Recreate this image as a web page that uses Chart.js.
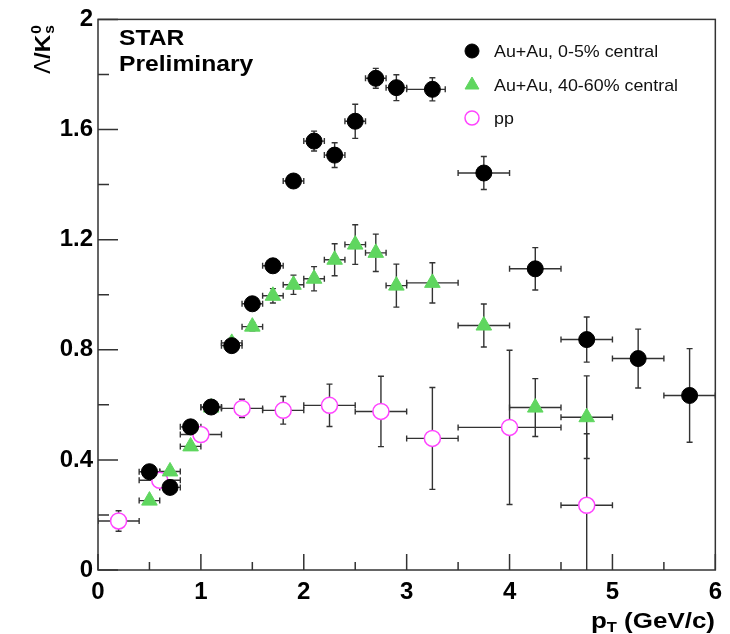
<!DOCTYPE html>
<html>
<head>
<meta charset="utf-8">
<script src="https://cdn.jsdelivr.net/npm/chart.js@4.4.0/dist/chart.umd.min.js"></script>
<style>
html, body { margin: 0; padding: 0; background: #fff; }
#wrap { width: 730px; height: 634px; position: relative; }
</style>
</head>
<body>
<div id="wrap"><canvas id="chart_lambdaK0sRatio"></canvas></div>
<script>
// Au+Au, 0-5% central
const ptCentral    = [0.5, 0.7, 0.9, 1.1, 1.3, 1.5, 1.7, 1.9, 2.1, 2.3, 2.5, 2.7, 2.9, 3.25, 3.75, 4.25, 4.75, 5.25, 5.75];
const ratioCentral = [0.357, 0.300, 0.520, 0.592, 0.815, 0.967, 1.105, 1.413, 1.558, 1.507, 1.630, 1.786, 1.752, 1.746, 1.442, 1.094, 0.837, 0.768, 0.634];
const errCentral   = [0.012, 0.012, 0.013, 0.013, 0.014, 0.015, 0.015, 0.015, 0.036, 0.045, 0.062, 0.036, 0.047, 0.042, 0.060, 0.077, 0.082, 0.107, 0.170];
const binLoCentral = [0.4, 0.6, 0.8, 1.0, 1.2, 1.4, 1.6, 1.8, 2.0, 2.2, 2.4, 2.6, 2.8, 3.0, 3.5, 4.0, 4.5, 5.0, 5.5];
const binHiCentral = [0.6, 0.8, 1.0, 1.2, 1.4, 1.6, 1.8, 2.0, 2.2, 2.4, 2.6, 2.8, 3.0, 3.375, 4.0, 4.5, 5.0, 5.5, 6.0];

// Au+Au, 40-60% central
const ptPeripheral    = [0.5, 0.7, 0.9, 1.1, 1.3, 1.5, 1.7, 1.9, 2.1, 2.3, 2.5, 2.7, 2.9, 3.25, 3.75, 4.25, 4.75];
const ratioPeripheral = [0.252, 0.358, 0.449, 0.590, 0.825, 0.884, 0.996, 1.036, 1.058, 1.127, 1.182, 1.152, 1.033, 1.043, 0.888, 0.590, 0.555];
const errPeripheral   = [0.010, 0.010, 0.012, 0.012, 0.015, 0.015, 0.026, 0.035, 0.044, 0.058, 0.072, 0.068, 0.078, 0.073, 0.078, 0.105, 0.150];
const binLoPeripheral = [0.4, 0.6, 0.8, 1.0, 1.2, 1.4, 1.6, 1.8, 2.0, 2.2, 2.4, 2.6, 2.8, 3.0, 3.5, 4.0, 4.5];
const binHiPeripheral = [0.6, 0.8, 1.0, 1.2, 1.4, 1.6, 1.8, 2.0, 2.2, 2.4, 2.6, 2.8, 3.0, 3.5, 4.0, 4.5, 5.0];

// pp
const ptPP    = [0.2, 0.6, 1.0, 1.4, 1.8, 2.25, 2.75, 3.25, 4.0, 4.75];
const ratioPP = [0.178, 0.326, 0.492, 0.587, 0.580, 0.598, 0.576, 0.478, 0.518, 0.235];
const errPP   = [0.037, 0.015, 0.015, 0.033, 0.050, 0.077, 0.128, 0.185, 0.280, 0.260];
const binLoPP = [0.0, 0.4, 0.8, 1.2, 1.6, 2.0, 2.5, 3.0, 3.5, 4.5];
const binHiPP = [0.4, 0.8, 1.2, 1.6, 2.0, 2.5, 3.0, 3.5, 4.5, 5.0];

const seriesLabels = ['Au+Au, 0-5% central', 'Au+Au, 40-60% central', 'pp'];
const yTicks = [0, 0.4, 0.8, 1.2, 1.6, 2];
const xTicks = [0, 1, 2, 3, 4, 5, 6];

const FRAME = '#333333';
const GREEN = '#5fd65f';
const MAGENTA = '#ff44ff';

function points(xs, ys) {
    return xs.map((x, i) => ({ x: x, y: ys[i] }));
}

// horizontally stretched text, ROOT fonts look a bit wider
function stretchText(ctx, str, x, y, font, sx) {
    ctx.save();
    ctx.font = font;
    ctx.translate(x, y);
    ctx.scale(sx, 1);
    ctx.fillText(str, 0, 0);
    const w = ctx.measureText(str).width * sx;
    ctx.restore();
    return w;
}

const errorBars = {
    id: 'errorBars',
    beforeDatasetsDraw: (chart) => {
        const ctx = chart.ctx;
        const xs = chart.scales.x, ys = chart.scales.y;
        const area = chart.chartArea;
        ctx.save();
        ctx.beginPath();
        ctx.rect(area.left, area.top, area.right - area.left, area.bottom - area.top);
        ctx.clip();
        ctx.strokeStyle = FRAME;
        ctx.lineWidth = 1.4;
        const cap = 3;
        chart.data.datasets.forEach((ds) => {
            ds.data.forEach((p, i) => {
                const px = xs.getPixelForValue(p.x);
                const py = ys.getPixelForValue(p.y);
                const x0 = xs.getPixelForValue(ds.binLo[i]);
                const x1 = xs.getPixelForValue(ds.binHi[i]);
                const y0 = ys.getPixelForValue(p.y - ds.errY[i]);
                const y1 = ys.getPixelForValue(p.y + ds.errY[i]);
                ctx.beginPath();
                ctx.moveTo(x0, py); ctx.lineTo(x1, py);
                ctx.moveTo(x0, py - cap); ctx.lineTo(x0, py + cap);
                ctx.moveTo(x1, py - cap); ctx.lineTo(x1, py + cap);
                ctx.moveTo(px, y0); ctx.lineTo(px, y1);
                ctx.moveTo(px - cap, y0); ctx.lineTo(px + cap, y0);
                ctx.moveTo(px - cap, y1); ctx.lineTo(px + cap, y1);
                ctx.stroke();
            });
        });
        ctx.restore();
    }
};

const frameAndText = {
    id: 'frameAndText',
    afterDraw: (chart) => {
        const ctx = chart.ctx;
        const xs = chart.scales.x, ys = chart.scales.y;
        const a = chart.chartArea;
        ctx.save();
        ctx.strokeStyle = FRAME;
        ctx.lineWidth = 1.5;
        ctx.strokeRect(a.left, a.top, a.right - a.left, a.bottom - a.top);

        // inward ticks, major and minor
        ctx.beginPath();
        for (let v = 0; v <= 2.0001; v += 0.2) {
            const py = ys.getPixelForValue(v);
            const major = Math.abs(v / 0.4 - Math.round(v / 0.4)) < 1e-6;
            ctx.moveTo(a.left, py);
            ctx.lineTo(a.left + (major ? 20 : 11), py);
        }
        for (let v = 0; v <= 6.0001; v += 0.5) {
            const px = xs.getPixelForValue(v);
            const major = Math.abs(v - Math.round(v)) < 1e-6;
            ctx.moveTo(px, a.bottom);
            ctx.lineTo(px, a.bottom - (major ? 16 : 8));
        }
        ctx.stroke();

        ctx.fillStyle = '#000';
        ctx.textBaseline = 'alphabetic';
        ctx.textAlign = 'left';
        stretchText(ctx, 'STAR', 119, 45, 'bold 22px "Liberation Sans", Arial', 1.12);
        stretchText(ctx, 'Preliminary', 119, 71, 'bold 22px "Liberation Sans", Arial', 1.12);

        // x axis title: p_T (GeV/c), right aligned
        const sx = 1.18;
        const f1 = 'bold 22px "Liberation Sans", Arial';
        const f2 = 'bold 14px "Liberation Sans", Arial';
        ctx.font = f1;
        const wP = ctx.measureText('p').width * sx;
        const wRest = ctx.measureText(' (GeV/c)').width * sx;
        ctx.font = f2;
        const wT = ctx.measureText('T').width * sx;
        let tx = 715 - (wP + wT + wRest);
        tx += stretchText(ctx, 'p', tx, 628, f1, sx);
        tx += stretchText(ctx, 'T', tx, 632, f2, sx);
        stretchText(ctx, ' (GeV/c)', tx, 628, f1, sx);

        // y axis title: Lambda / K0s, rotated
        ctx.save();
        ctx.translate(50, 74);
        ctx.rotate(-Math.PI / 2);
        let ty = 0;
        ty += stretchText(ctx, 'Λ', ty, 0, '22px "DejaVu Sans", sans-serif', 1.0);
        ty += stretchText(ctx, '/K', ty, 0, 'bold 22px "Liberation Sans", Arial', 1.1);
        stretchText(ctx, '0', ty + 1, -9, 'bold 14px "Liberation Sans", Arial', 1.1);
        stretchText(ctx, 's', ty + 1, 4, 'bold 14px "Liberation Sans", Arial', 1.1);
        ctx.restore();

        // legend
        const rows = [51, 85, 118];
        chart.data.datasets.forEach((ds, i) => {
            ctx.save();
            ctx.fillStyle = ds.backgroundColor;
            ctx.strokeStyle = ds.borderColor;
            ctx.lineWidth = ds.borderWidth;
            Chart.helpers.drawPoint(ctx, { pointStyle: ds.pointStyle, radius: ds.pointRadius - 1, borderWidth: ds.borderWidth, rotation: 0 }, 472, rows[i]);
            ctx.restore();
            ctx.fillStyle = '#111';
            ctx.textBaseline = 'middle';
            stretchText(ctx, seriesLabels[i], 494, rows[i] + 1, '17px "Liberation Sans", Arial', 1.05);
        });
        ctx.restore();
    }
};

const chart_lambdaK0sRatio = new Chart(document.getElementById('chart_lambdaK0sRatio'), {
    type: 'scatter',
    data: {
        datasets: [
            {
                label: seriesLabels[0],
                data: points(ptCentral, ratioCentral),
                errY: errCentral, binLo: binLoCentral, binHi: binHiCentral,
                pointStyle: 'circle',
                pointRadius: 8,
                borderWidth: 1,
                backgroundColor: '#000000',
                borderColor: '#000000',
                order: 0
            },
            {
                label: seriesLabels[1],
                data: points(ptPeripheral, ratioPeripheral),
                errY: errPeripheral, binLo: binLoPeripheral, binHi: binHiPeripheral,
                pointStyle: 'triangle',
                pointRadius: 9,
                borderWidth: 1,
                backgroundColor: GREEN,
                borderColor: GREEN,
                order: 1
            },
            {
                label: seriesLabels[2],
                data: points(ptPP, ratioPP),
                errY: errPP, binLo: binLoPP, binHi: binHiPP,
                pointStyle: 'circle',
                pointRadius: 8,
                borderWidth: 1.5,
                backgroundColor: '#ffffff',
                borderColor: MAGENTA,
                order: 2
            }
        ]
    },
    options: {
        animation: false,
        responsive: true,
        maintainAspectRatio: false,
        layout: { padding: { top: 19, right: 13, left: 0, bottom: 0 } },
        plugins: {
            legend: { display: false },
            tooltip: { enabled: false }
        },
        scales: {
            x: {
                type: 'linear',
                min: 0,
                max: 6,
                afterFit: (scale) => { scale.height = 64; },
                afterBuildTicks: (scale) => { scale.ticks = xTicks.map(v => ({ value: v })); },
                grid: { display: false, drawTicks: false },
                border: { display: false },
                ticks: {
                    padding: 8,
                    color: '#000',
                    font: { family: '"Liberation Sans", Arial', size: 24, weight: 'bold' },
                    callback: (v) => String(v)
                }
            },
            y: {
                type: 'linear',
                min: 0,
                max: 2,
                afterFit: (scale) => { scale.width = 98; },
                afterBuildTicks: (scale) => { scale.ticks = yTicks.map(v => ({ value: v })); },
                grid: { display: false, drawTicks: false },
                border: { display: false },
                ticks: {
                    padding: 5,
                    color: '#000',
                    font: { family: '"Liberation Sans", Arial', size: 24, weight: 'bold' },
                    callback: (v) => (v === 0 || v === 2) ? String(v) : v.toFixed(1)
                }
            }
        }
    },
    plugins: [errorBars, frameAndText, {
        id: 'whiteBackground',
        beforeDraw: (chart) => {
            const ctx = chart.canvas.getContext('2d');
            ctx.save();
            ctx.globalCompositeOperation = 'destination-over';
            ctx.fillStyle = 'white';
            ctx.fillRect(0, 0, chart.canvas.width, chart.canvas.height);
            ctx.restore();
        }
    }]
});
</script>
</body>
</html>
